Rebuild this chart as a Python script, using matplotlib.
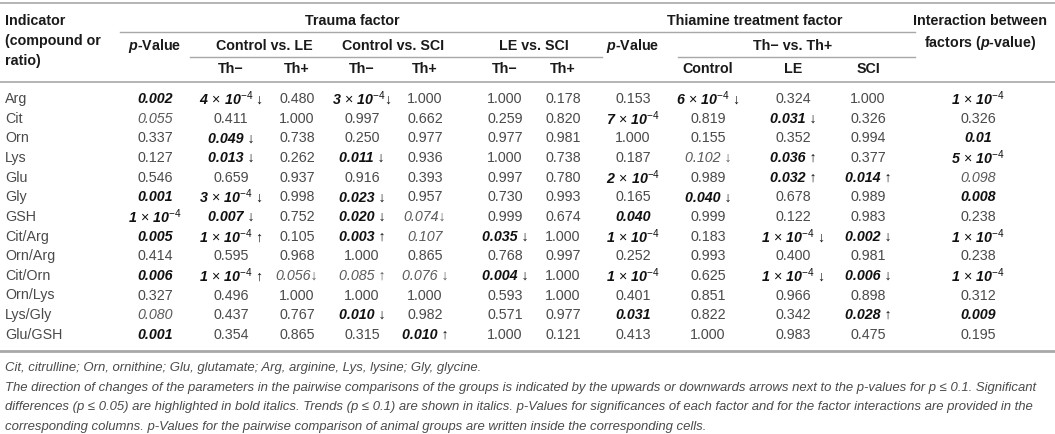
#!/usr/bin/env python3
"""
Amino acid table - trauma and thiamine treatment factors (p-values)
Drawn as a plain matplotlib figure with text and rules.
"""

import matplotlib
matplotlib.use("Agg")
import matplotlib.pyplot as plt

plt.rcParams['font.family'] = ['Liberation Sans', 'DejaVu Sans']
plt.rcParams['mathtext.fontset'] = 'custom'
plt.rcParams['mathtext.rm'] = 'Liberation Sans'
plt.rcParams['mathtext.it'] = 'Liberation Sans:italic'
plt.rcParams['mathtext.bf'] = 'Liberation Sans:bold'
plt.rcParams['mathtext.bfit'] = 'Liberation Sans:bold:italic'

# --- table data ---------------------------------------------------------
indicators = ['Arg', 'Cit', 'Orn', 'Lys', 'Glu', 'Gly', 'GSH',
              'Cit/Arg', 'Orn/Arg', 'Cit/Orn', 'Orn/Lys', 'Lys/Gly', 'Glu/GSH']

# b = bold italic (p <= 0.05), i = italic (trend), n = plain
trauma_p = ['0.002', '0.055', '0.337', '0.127', '0.546', '0.001', '1e-4',
            '0.005', '0.414', '0.006', '0.327', '0.080', '0.001']
trauma_p_style = 'binnnbbbnbnib'

ctrl_le_minus = ['4e-4 ↓', '0.411', '0.049 ↓', '0.013 ↓', '0.659', '3e-4 ↓', '0.007 ↓',
                 '1e-4 ↑', '0.595', '1e-4 ↑', '0.496', '0.437', '0.354']
ctrl_le_minus_style = 'bnbbnbbbnbnnn'

ctrl_le_plus = ['0.480', '1.000', '0.738', '0.262', '0.937', '0.998', '0.752',
                '0.105', '0.968', '0.056↓', '1.000', '0.767', '0.865']
ctrl_le_plus_style = 'nnnnnnnnninnn'

ctrl_sci_minus = ['3e-4↓', '0.997', '0.250', '0.011 ↓', '0.916', '0.023 ↓', '0.020 ↓',
                  '0.003 ↑', '1.000', '0.085 ↑', '1.000', '0.010 ↓', '0.315']
ctrl_sci_minus_style = 'bnnbnbbbninbn'

ctrl_sci_plus = ['1.000', '0.662', '0.977', '0.936', '0.393', '0.957', '0.074↓',
                 '0.107', '0.865', '0.076 ↓', '1.000', '0.982', '0.010 ↑']
ctrl_sci_plus_style = 'nnnnnniininnb'

le_sci_minus = ['1.000', '0.259', '0.977', '1.000', '0.997', '0.730', '0.999',
                '0.035 ↓', '0.768', '0.004 ↓', '0.593', '0.571', '1.000']
le_sci_minus_style = 'nnnnnnnbnbnnn'

le_sci_plus = ['0.178', '0.820', '0.981', '0.738', '0.780', '0.993', '0.674',
               '1.000', '0.997', '1.000', '1.000', '0.977', '0.121']
le_sci_plus_style = 'nnnnnnnnnnnnn'

thiamine_p = ['0.153', '7e-4', '1.000', '0.187', '2e-4', '0.165', '0.040',
              '1e-4', '0.252', '1e-4', '0.401', '0.031', '0.413']
thiamine_p_style = 'nbnnbnbbnbnbn'

th_control = ['6e-4 ↓', '0.819', '0.155', '0.102 ↓', '0.989', '0.040 ↓', '0.999',
              '0.183', '0.993', '0.625', '0.851', '0.822', '1.000']
th_control_style = 'bnninbnnnnnnn'

th_le = ['0.324', '0.031 ↓', '0.352', '0.036 ↑', '0.032 ↑', '0.678', '0.122',
         '1e-4 ↓', '0.400', '1e-4 ↓', '0.966', '0.342', '0.983']
th_le_style = 'nbnbbnnbnbnnn'

th_sci = ['1.000', '0.326', '0.994', '0.377', '0.014 ↑', '0.989', '0.983',
          '0.002 ↓', '0.981', '0.006 ↓', '0.898', '0.028 ↑', '0.475']
th_sci_style = 'nnnnbnnbnbnbn'

interaction = ['1e-4', '0.326', '0.01', '5e-4', '0.098', '0.008', '0.238',
               '1e-4', '0.238', '1e-4', '0.312', '0.009', '0.195']
interaction_style = 'bnbbibnbnbnbn'

columns = [
    (trauma_p, trauma_p_style),
    (ctrl_le_minus, ctrl_le_minus_style),
    (ctrl_le_plus, ctrl_le_plus_style),
    (ctrl_sci_minus, ctrl_sci_minus_style),
    (ctrl_sci_plus, ctrl_sci_plus_style),
    (le_sci_minus, le_sci_minus_style),
    (le_sci_plus, le_sci_plus_style),
    (thiamine_p, thiamine_p_style),
    (th_control, th_control_style),
    (th_le, th_le_style),
    (th_sci, th_sci_style),
    (interaction, interaction_style),
]

caption_lines = [
    "Cit, citrulline; Orn, ornithine; Glu, glutamate; Arg, arginine, Lys, lysine; Gly, glycine.",
    "The direction of changes of the parameters in the pairwise comparisons of the groups is indicated "
    "by the upwards or downwards arrows next to the p-values for p \u2264 0.1. Significant",
    "differences (p \u2264 0.05) are highlighted in bold italics. Trends (p \u2264 0.1) are shown in italics. "
    "p-Values for significances of each factor and for the factor interactions are provided in the",
    "corresponding columns. p-Values for the pairwise comparison of animal groups are written inside "
    "the corresponding cells.",
]

# --- layout (pixels of a 1055 x 434 canvas) ------------------------------
W, H = 1055, 434
col_x = [155, 231, 297, 362, 425, 505, 563, 633, 708, 793, 868, 978]
row_y0, row_dy = 99, 19.65
FS = 10.3
C_TEXT = '#4a4a4a'
C_HEAD = '#1a1a1a'
C_RULE = '#a8a8a8'


def cell_text(value, style):
    """Turn '4e-4 ↓' into mathtext like 4 x 10^-4 with the arrow kept"""
    base, tail = value, ''
    for i, ch in enumerate(value):
        if ch in ' ↓↑':
            base, tail = value[:i], value[i:]
            break
    if 'e' in base:
        m, e = base.split('e')
        cmd = {'b': r'\mathbfit', 'i': r'\mathit'}.get(style, r'\mathrm')
        base = rf"${cmd}{{{m}}}\,\times\,{cmd}{{10}}^{{\mathit{{{e}}}}}$"
    return base + tail


def style_kw(style):
    if style == 'b':
        return dict(fontweight='bold', fontstyle='italic', color='#111111')
    if style == 'i':
        return dict(fontstyle='italic', color='#5a5a5a')
    return dict(color=C_TEXT)


def main():
    fig = plt.figure(figsize=(W / 100, H / 100), dpi=100)
    ax = fig.add_axes([0, 0, 1, 1])
    ax.set_xlim(0, W)
    ax.set_ylim(H, 0)
    ax.axis('off')

    # rules
    ax.plot([0, W], [3, 3], color=C_RULE, lw=1.2)
    ax.plot([120, 915], [32, 32], color=C_RULE, lw=1)
    ax.plot([190, 602], [57, 57], color=C_RULE, lw=1)
    ax.plot([678, 915], [57, 57], color=C_RULE, lw=1)
    ax.plot([0, W], [82, 82], color=C_RULE, lw=1.2)
    ax.plot([0, W], [351, 351], color=C_RULE, lw=2)

    head = dict(fontsize=FS, fontweight='bold', color=C_HEAD, va='center')
    # left header block
    for y, t in zip([21, 41, 61], ['Indicator', '(compound or', 'ratio)']):
        ax.text(5, y, t, ha='left', **head)

    # first header row
    ax.text(352, 21, 'Trauma factor', ha='center', **head)
    ax.text(755, 21, 'Thiamine treatment factor', ha='center', **head)
    ax.text(980, 21, 'Interaction between', ha='center', **head)
    ax.text(980, 43, r'factors ($\mathbfit{p}$-value)', ha='center', **head)

    # second header row
    y2 = 46
    ax.text(col_x[0], y2, r'$\mathbfit{p}$-Value', ha='center', **head)
    ax.text((col_x[1] + col_x[2]) / 2, y2, 'Control vs. LE', ha='center', **head)
    ax.text((col_x[3] + col_x[4]) / 2, y2, 'Control vs. SCI', ha='center', **head)
    ax.text((col_x[5] + col_x[6]) / 2, y2, 'LE vs. SCI', ha='center', **head)
    ax.text(col_x[7], y2, r'$\mathbfit{p}$-Value', ha='center', **head)
    ax.text(col_x[9], y2, 'Th\u2212 vs. Th+', ha='center', **head)

    # third header row
    y3 = 69
    for i in range(1, 7):
        ax.text(col_x[i], y3, 'Th\u2212' if i % 2 else 'Th+', ha='center', **head)
    for x, t in zip(col_x[8:11], ['Control', 'LE', 'SCI']):
        ax.text(x, y3, t, ha='center', **head)

    # body
    for r, name in enumerate(indicators):
        y = row_y0 + r * row_dy
        ax.text(5, y, name, ha='left', va='center', fontsize=FS, color=C_TEXT)
        for x, (vals, styles) in zip(col_x, columns):
            ax.text(x, y, cell_text(vals[r], styles[r]), ha='center', va='center',
                    fontsize=FS, **style_kw(styles[r]))

    # footnote
    for k, line in enumerate(caption_lines):
        ax.text(5, 368 + k * 19.6, line, ha='left', va='center', fontsize=9.45,
                fontstyle='italic', color=C_TEXT)

    fig.savefig('out.png', dpi=100)
    return 0


if __name__ == "__main__":
    exit(main())
